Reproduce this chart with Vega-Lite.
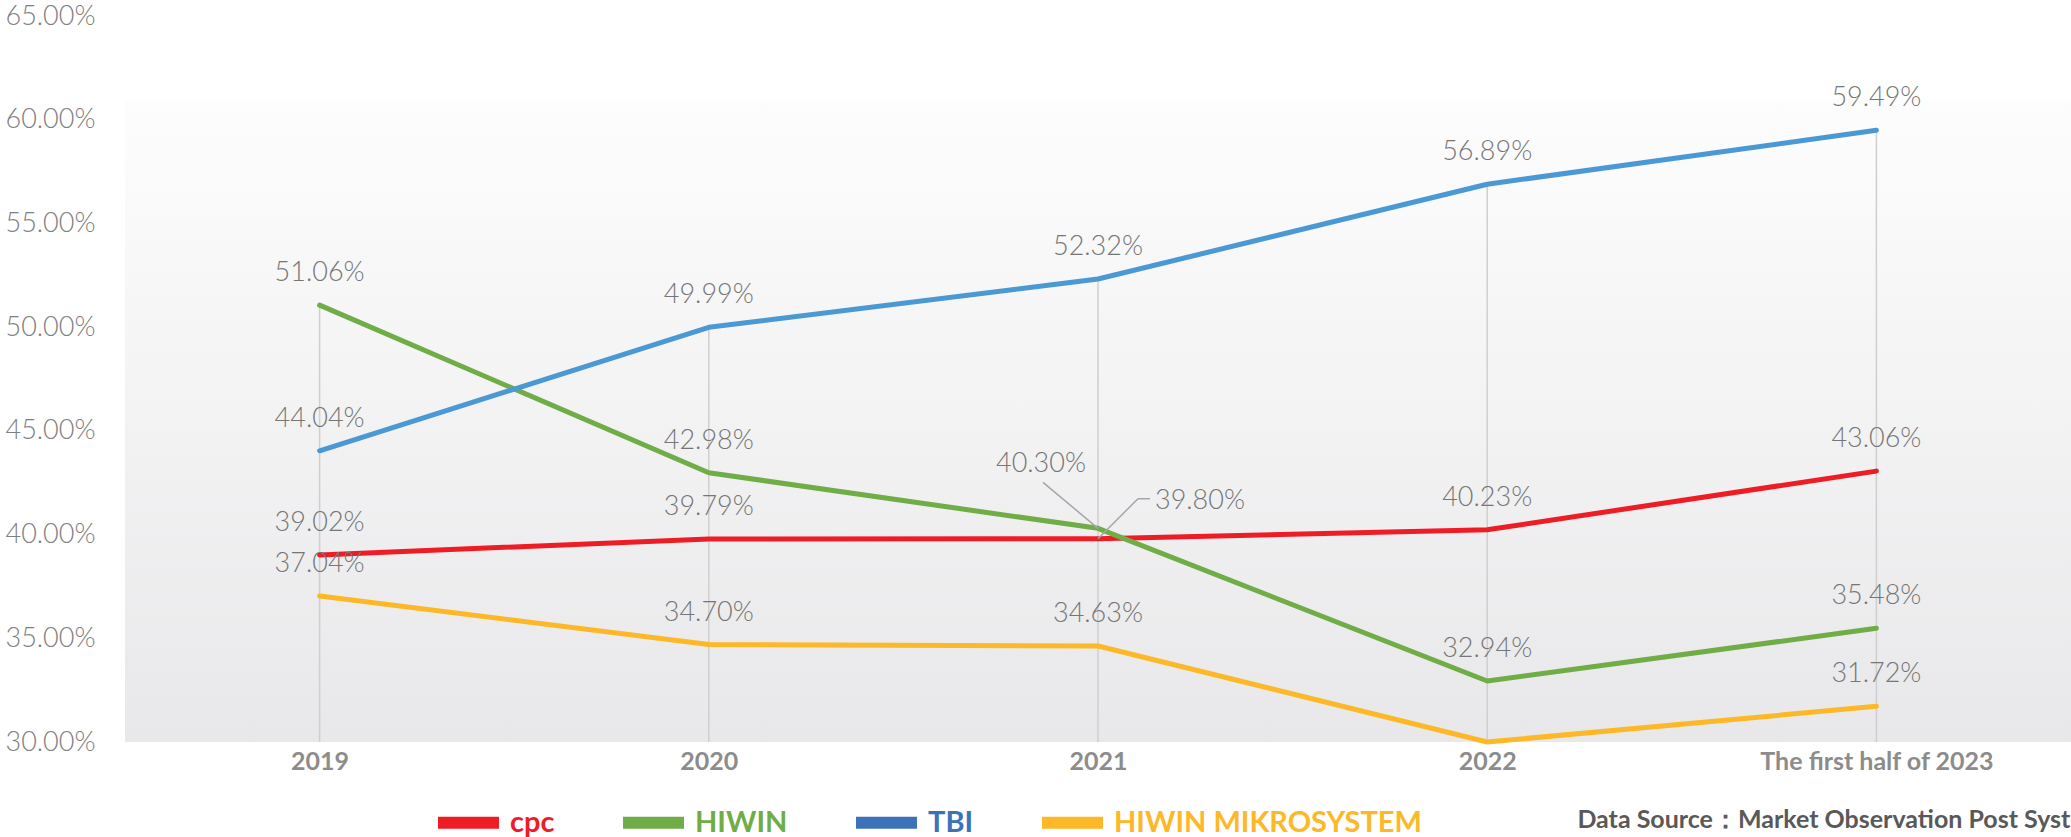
{
  "$schema": "https://vega.github.io/schema/vega-lite/v6.json",
  "width": 1946,
  "height": 726,
  "autosize": {"type": "none"},
  "padding": {"left": 125, "top": 16, "right": 0, "bottom": 95},
  "background": "white",
  "config": {"view": {"stroke": null}, "font": "Lato"},
  "datasets": {
    "note": [{"label": "Data Source：Market Observation Post System", "period": "The first half of 2023", "value": 30}],
    "bg": [{"top": 61, "bottom": 30}]
  },
  "data": {"values": [
    {"period": "2019", "company": "cpc", "value": 39.02},
    {"period": "2020", "company": "cpc", "value": 39.79},
    {"period": "2021", "company": "cpc", "value": 39.80},
    {"period": "2022", "company": "cpc", "value": 40.23},
    {"period": "The first half of 2023", "company": "cpc", "value": 43.06},
    {"period": "2019", "company": "HIWIN", "value": 51.06},
    {"period": "2020", "company": "HIWIN", "value": 42.98},
    {"period": "2021", "company": "HIWIN", "value": 40.30},
    {"period": "2022", "company": "HIWIN", "value": 32.94},
    {"period": "The first half of 2023", "company": "HIWIN", "value": 35.48},
    {"period": "2019", "company": "TBI", "value": 44.04},
    {"period": "2020", "company": "TBI", "value": 49.99},
    {"period": "2021", "company": "TBI", "value": 52.32},
    {"period": "2022", "company": "TBI", "value": 56.89},
    {"period": "The first half of 2023", "company": "TBI", "value": 59.49},
    {"period": "2019", "company": "HIWIN MIKROSYSTEM", "value": 37.04},
    {"period": "2020", "company": "HIWIN MIKROSYSTEM", "value": 34.70},
    {"period": "2021", "company": "HIWIN MIKROSYSTEM", "value": 34.63},
    {"period": "2022", "company": "HIWIN MIKROSYSTEM", "value": 30.00},
    {"period": "The first half of 2023", "company": "HIWIN MIKROSYSTEM", "value": 31.72}
  ]},
  "layer": [
    {
      "data": {"name": "bg"},
      "mark": {"type": "rect", "color": {"gradient": "linear", "x1": 0, "y1": 0, "x2": 0, "y2": 1,
        "stops": [{"offset": 0, "color": "#fdfdfd"}, {"offset": 1, "color": "#e8e8ea"}]}},
      "encoding": {
        "x": {"value": 0}, "x2": {"value": "width"},
        "y": {"field": "top", "type": "quantitative", "scale": {"domain": [30, 65], "nice": false, "zero": false}},
        "y2": {"field": "bottom"}
      }
    },
    {
      "mark": {"type": "rule", "color": "#cfcfcf", "strokeWidth": 1.5},
      "encoding": {
        "x": {"field": "period", "type": "ordinal", "sort": null},
        "y": {"aggregate": "max", "field": "value", "type": "quantitative"},
        "y2": {"datum": 30}
      }
    },
    {
      "mark": {"type": "line", "strokeWidth": 5, "strokeCap": "round", "strokeJoin": "round"},
      "encoding": {
        "x": {
          "field": "period", "type": "ordinal", "sort": null,
          "scale": {"type": "point", "padding": 0.5},
          "axis": {"title": null, "domain": false, "ticks": false, "grid": false, "labelAngle": 0, "labelLimit": 0,
                   "labelAlign": "center", "labelBaseline": "top", "labelFlush": false,
                   "labelFont": "Lato", "labelFontSize": 25, "labelFontWeight": "bold", "labelColor": "#8c8c8c",
                   "labelPadding": 7}
        },
        "y": {
          "field": "value", "type": "quantitative",
          "axis": {"title": null, "domain": false, "ticks": false, "tickSize": 0, "grid": false,
                   "values": [30, 35, 40, 45, 50, 55, 60, 65],
                   "labelExpr": "format(datum.value, '.2f') + '%'",
                   "labelAlign": "left", "labelPadding": 120, "labelBaseline": "middle", "labelFlush": false,
                   "labelFont": "Lato", "labelFontSize": 27, "labelFontWeight": 300, "labelColor": "#808080"}
        },
        "color": {
          "field": "company", "type": "nominal",
          "scale": {"domain": ["cpc", "HIWIN", "TBI", "HIWIN MIKROSYSTEM"],
                    "range": ["#ee1c25", "#70ad47", "#4a98d4", "#fdb827"]},
          "legend": {
            "title": null, "orient": "none", "legendX": 313, "legendY": 776, "direction": "horizontal",
            "padding": 0, "symbolType": "M-1,-0.2H1V0.2H-1Z", "symbolSize": 3721, "symbolStrokeWidth": 0,
            "labelFont": "Lato", "labelFontSize": 29, "labelFontWeight": "bold", "labelOffset": 11, "labelLimit": 0,
            "columnPadding": 68,
            "encode": {
              "labels": {"update": {"fill": {"signal": "datum.value === 'cpc' ? '#ee1c25' : datum.value === 'HIWIN' ? '#70ad47' : datum.value === 'TBI' ? '#3b72b9' : '#fdb827'"}}},
              "symbols": {"update": {"fill": {"signal": "datum.value === 'cpc' ? '#ee1c25' : datum.value === 'HIWIN' ? '#70ad47' : datum.value === 'TBI' ? '#3b72b9' : '#fdb827'"}, "strokeWidth": {"value": 0}, "opacity": {"value": 1}}}
            }
          }
        }
      }
    },
    {
      "transform": [{"filter": "datum.value > 30 && !(datum.period === '2021' && (datum.company === 'HIWIN' || datum.company === 'cpc'))"}],
      "mark": {"type": "text", "dy": -32, "baseline": "middle", "fontSize": 27, "fontWeight": 300, "color": "#767676", "font": "Lato",
               "text": {"expr": "format(datum.value, '.2f') + '%'"}},
      "encoding": {
        "x": {"field": "period", "type": "ordinal", "sort": null},
        "y": {"field": "value", "type": "quantitative"}
      }
    },
    {
      "transform": [{"filter": "datum.period === '2021' && datum.company === 'HIWIN'"}],
      "mark": {"type": "rule", "color": "#a6a6a6", "strokeWidth": 1.5, "x2Offset": -55, "y2Offset": -46},
      "encoding": {
        "x": {"field": "period", "type": "ordinal", "sort": null},
        "y": {"field": "value", "type": "quantitative"},
        "x2": {"field": "period"}, "y2": {"field": "value"}
      }
    },
    {
      "transform": [{"filter": "datum.period === '2021' && datum.company === 'cpc'"}],
      "mark": {"type": "rule", "color": "#a6a6a6", "strokeWidth": 1.5, "x2Offset": 40, "y2Offset": -40},
      "encoding": {
        "x": {"field": "period", "type": "ordinal", "sort": null},
        "y": {"field": "value", "type": "quantitative"},
        "x2": {"field": "period"}, "y2": {"field": "value"}
      }
    },
    {
      "transform": [{"filter": "datum.period === '2021' && datum.company === 'cpc'"}],
      "mark": {"type": "rule", "color": "#a6a6a6", "strokeWidth": 1.5, "xOffset": 40, "yOffset": -40, "x2Offset": 52, "y2Offset": -40},
      "encoding": {
        "x": {"field": "period", "type": "ordinal", "sort": null},
        "y": {"field": "value", "type": "quantitative"},
        "x2": {"field": "period"}, "y2": {"field": "value"}
      }
    },
    {
      "transform": [{"filter": "datum.period === '2021' && datum.company === 'HIWIN'"}],
      "mark": {"type": "text", "dx": -57, "dy": -64, "baseline": "middle", "fontSize": 27, "fontWeight": 300, "color": "#767676", "font": "Lato",
               "text": {"expr": "format(datum.value, '.2f') + '%'"}},
      "encoding": {
        "x": {"field": "period", "type": "ordinal", "sort": null},
        "y": {"field": "value", "type": "quantitative"}
      }
    },
    {
      "transform": [{"filter": "datum.period === '2021' && datum.company === 'cpc'"}],
      "mark": {"type": "text", "dx": 57, "dy": -38, "align": "left", "baseline": "middle", "fontSize": 27, "fontWeight": 300, "color": "#767676", "font": "Lato",
               "text": {"expr": "format(datum.value, '.2f') + '%'"}},
      "encoding": {
        "x": {"field": "period", "type": "ordinal", "sort": null},
        "y": {"field": "value", "type": "quantitative"}
      }
    },
    {
      "data": {"name": "note"},
      "mark": {"type": "text", "align": "left", "baseline": "middle", "limit": 0,
               "dx": -299, "dy": 78, "fontSize": 25, "fontWeight": "bold", "color": "#595959", "font": "Lato"},
      "encoding": {
        "x": {"field": "period", "type": "ordinal", "sort": null},
        "y": {"field": "value", "type": "quantitative"},
        "text": {"field": "label"}
      }
    }
  ]
}
